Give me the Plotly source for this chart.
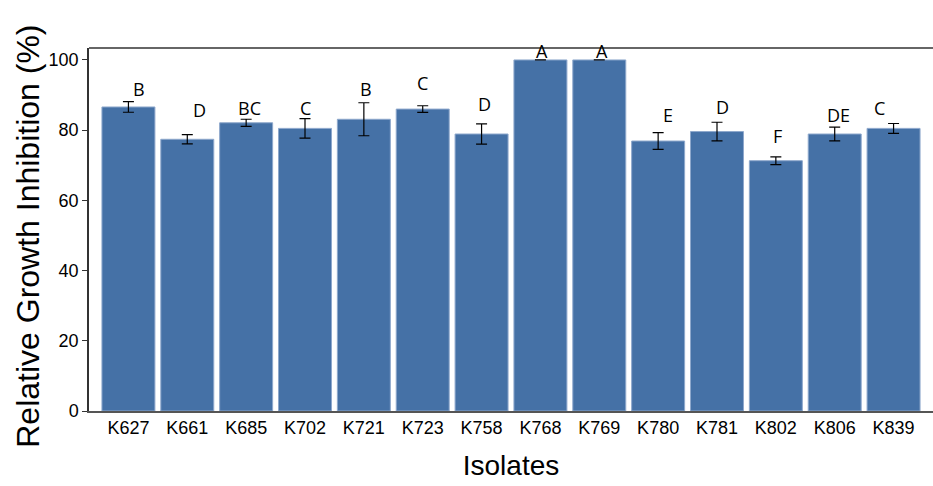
import plotly.graph_objects as go

isolates = ["K627", "K661", "K685", "K702", "K721", "K723", "K758",
            "K768", "K769", "K780", "K781", "K802", "K806", "K839"]
inhibition = [86.6, 77.4, 82.1, 80.5, 83.1, 86.0, 78.9,
              100.0, 100.0, 76.9, 79.6, 71.3, 78.9, 80.5]
err = [1.5, 1.3, 1.0, 2.8, 4.7, 0.95, 2.9,
       0.0, 0.0, 2.4, 2.65, 1.1, 1.95, 1.4]
letters = ["B", "D", "BC", "C", "B", "C", "D",
           "A", "A", "E", "D", "F", "DE", "C"]
letter_y = [91.7, 85.8, 86.3, 86.3, 91.7, 93.5, 87.5,
            102.6, 102.6, 84.3, 86.7, 78.3, 84.3, 86.4]
letter_dx = [11, 12, 3, 0, 2, 0, 3, 2, 3, 10, 5, 2, 4, -14]

fig = go.Figure()
fig.add_trace(go.Bar(
    x=list(range(len(isolates))), y=inhibition,
    marker=dict(color="#4571a6", line=dict(color="#8ea8cc", width=1)),
    error_y=dict(type="data", array=err, visible=True, color="black",
                 thickness=1.2, width=5.5),
    width=0.9,
))

for i, (lab, ly, dx) in enumerate(zip(letters, letter_y, letter_dx)):
    fig.add_annotation(x=i, y=ly, text=lab, showarrow=False, xshift=dx,
                       font=dict(family="Open Sans", size=18, color="black"))

fig.add_annotation(xref="paper", yref="paper", x=-61/844, y=0.48,
                   xanchor="center", yanchor="middle",
                   text="Relative Growth Inhibition (%)", textangle=-90,
                   showarrow=False,
                   font=dict(family="Liberation Sans", size=32, color="black"))

fig.add_shape(type="line", xref="paper", yref="paper", x0=0, x1=1, y0=1, y1=1,
              line=dict(color="#333333", width=1.5))

fig.update_layout(
    width=933, height=486,
    margin=dict(l=89, r=0, t=48, b=75),
    plot_bgcolor="white", paper_bgcolor="white",
    showlegend=False,
    xaxis=dict(
        tickmode="array", tickvals=list(range(len(isolates))), ticktext=isolates,
        range=[-0.67, 13.67], showgrid=False, zeroline=False,
        showline=True, linecolor="#555555", linewidth=1.5, ticks="",
        tickfont=dict(family="Liberation Sans", size=18, color="black"),
        title=dict(text="Isolates", standoff=18,
                   font=dict(family="Liberation Sans", size=28, color="black")),
    ),
    yaxis=dict(
        range=[0, 103.4], tickvals=[0, 20, 40, 60, 80, 100],
        showgrid=False, zeroline=False,
        showline=True, linecolor="#333333", linewidth=1.5,
        ticks="outside", ticklen=5, tickcolor="#333333",
        tickfont=dict(family="Liberation Sans", size=18, color="black"),
    ),
)

fig.write_html("out.html")
